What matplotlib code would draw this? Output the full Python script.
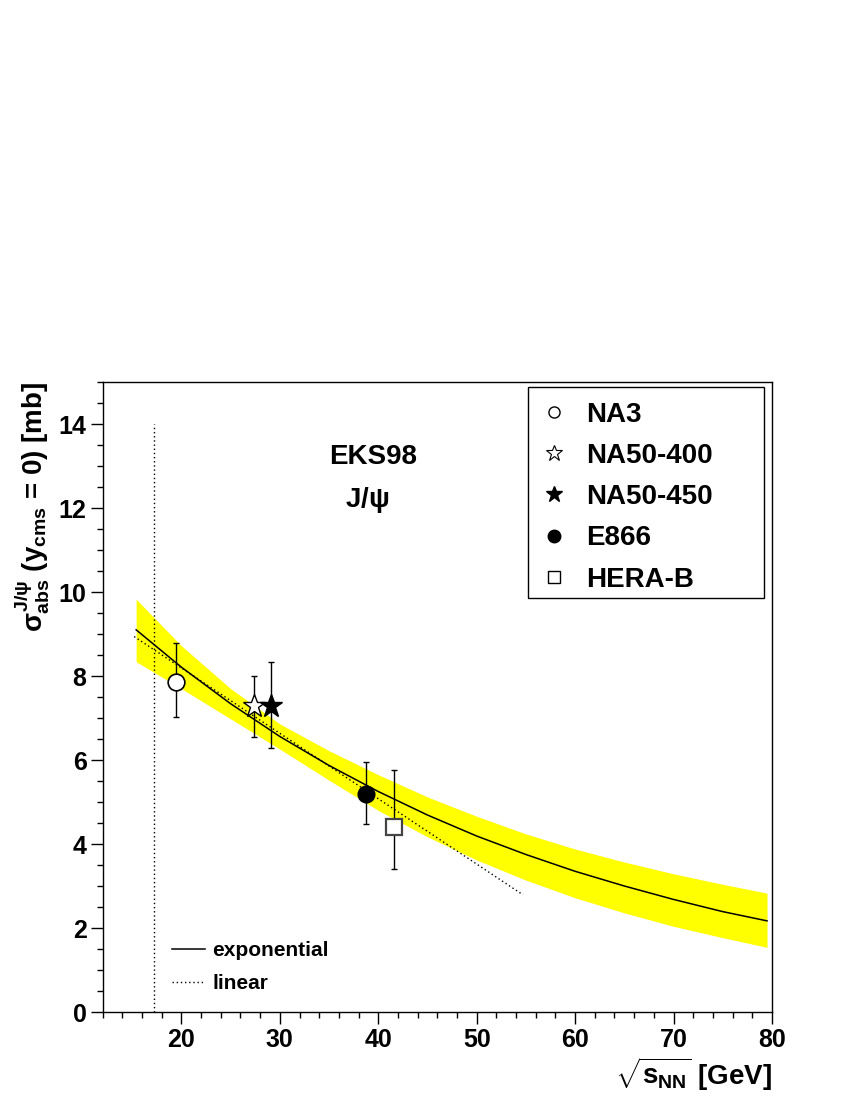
import matplotlib
matplotlib.use('Agg')
import matplotlib.pyplot as plt
from matplotlib.lines import Line2D
from matplotlib.patches import Rectangle
from matplotlib.ticker import MultipleLocator

plt.rcParams['font.family'] = ['Liberation Sans', 'DejaVu Sans']
plt.rcParams['font.weight'] = 'bold'
plt.rcParams['mathtext.fontset'] = 'custom'
plt.rcParams['mathtext.rm'] = 'Liberation Sans:bold'
plt.rcParams['mathtext.it'] = 'Liberation Sans:bold'
plt.rcParams['mathtext.bf'] = 'Liberation Sans:bold'

# exponential fit and its error band
exp_x = [15.4, 20, 25, 30, 35, 40, 45, 50, 55, 60, 65, 70, 75, 79.5]
exp_y = [9.10, 8.21, 7.34, 6.56, 5.87, 5.25, 4.69, 4.19, 3.75, 3.35, 3.00, 2.68, 2.39, 2.17]
band_hi = [9.83, 8.72, 7.70, 6.86, 6.22, 5.65, 5.12, 4.66, 4.24, 3.88, 3.57, 3.29, 3.04, 2.83]
band_lo = [8.34, 7.70, 6.98, 6.26, 5.52, 4.80, 4.17, 3.62, 3.14, 2.72, 2.36, 2.04, 1.77, 1.54]

# linear fit
lin_x = [15.2, 54.7]
lin_y = [8.94, 2.79]

# SPS energy marker line
sps_x = [17.2, 17.2]
sps_y = [0, 14]

# measurements: sqrt(s), sigma, lower err, upper err
na3_x, na3_y, na3_lo, na3_hi = [19.4], [7.86], [0.83], [0.92]
na50a_x, na50a_y, na50a_lo, na50a_hi = [27.4], [7.29], [0.74], [0.71]
na50b_x, na50b_y, na50b_lo, na50b_hi = [29.1], [7.29], [1.01], [1.04]
e866_x, e866_y, e866_lo, e866_hi = [38.8], [5.19], [0.72], [0.77]
herab_x, herab_y, herab_lo, herab_hi = [41.6], [4.40], [1.00], [1.36]

fig = plt.figure(figsize=(8.5, 11), dpi=100)
ax = fig.add_axes([0.1208, 0.08, 0.7874, 0.5727])

ax.fill_between(exp_x, band_lo, band_hi, color='#ffff00', lw=0, zorder=1)
ax.plot(exp_x, exp_y, color='black', lw=1.1, zorder=2)
ax.plot(lin_x, lin_y, color='black', lw=1.0, ls=(0, (1, 2)), zorder=2)
ax.plot(sps_x, sps_y, color='black', lw=1.0, ls=(0, (1, 2)), zorder=2)

points = [
    (na3_x, na3_y, na3_lo, na3_hi, dict(marker='o', ms=12, mfc='white', mec='black', mew=1.2)),
    (na50a_x, na50a_y, na50a_lo, na50a_hi, dict(marker='*', ms=17, mfc='white', mec='black', mew=1.0)),
    (na50b_x, na50b_y, na50b_lo, na50b_hi, dict(marker='*', ms=17, mfc='black', mec='black', mew=1.0)),
    (e866_x, e866_y, e866_lo, e866_hi, dict(marker='o', ms=12, mfc='black', mec='black', mew=1.0)),
    (herab_x, herab_y, herab_lo, herab_hi, dict(marker='s', ms=12, mfc='white', mec='#444444', mew=1.6)),
]
for px, py, lo, hi, style in points:
    ax.errorbar(px, py, yerr=[lo, hi], fmt='none', ecolor='black', elinewidth=1.0,
                capsize=2.4, capthick=1.0, zorder=3)
    ax.plot(px, py, ls='none', zorder=4, **style)

ax.set_xlim(12, 80)
ax.set_ylim(0, 15)
ax.xaxis.set_minor_locator(MultipleLocator(2))
ax.yaxis.set_major_locator(MultipleLocator(2))
ax.yaxis.set_minor_locator(MultipleLocator(0.5))
ax.set_xticks([20, 30, 40, 50, 60, 70, 80])
ax.tick_params(which='both', direction='out', top=False, right=False, width=1.0)
ax.tick_params(which='major', length=8.6, labelsize=18, pad=3)
ax.tick_params(which='minor', length=4.3)
for lab in ax.get_xticklabels() + ax.get_yticklabels():
    lab.set_fontweight('bold')
for sp in ax.spines.values():
    sp.set_linewidth(1.0)

ax.text(39.5, 13.22, 'EKS98', fontsize=20, fontweight='bold', ha='center', va='center')
ax.text(38.9, 12.18, r'J/$\psi$', fontsize=20, fontweight='bold', ha='center', va='center')

# main legend
handles = [
    Line2D([], [], ls='none', marker='o', ms=8, mfc='white', mec='black', mew=1.0),
    Line2D([], [], ls='none', marker='*', ms=12, mfc='white', mec='black', mew=0.8),
    Line2D([], [], ls='none', marker='*', ms=12, mfc='black', mec='black'),
    Line2D([], [], ls='none', marker='o', ms=9, mfc='black', mec='black'),
    Line2D([], [], ls='none', marker='s', ms=9, mfc='white', mec='black', mew=1.0),
]
labels = ['NA3', 'NA50-400', 'NA50-450', 'E866', 'HERA-B']
leg = ax.legend(handles, labels, loc='upper left', bbox_to_anchor=(0.6536, 0.969),
                frameon=False, borderpad=0, borderaxespad=0,
                handlelength=1.0, handletextpad=0.65, labelspacing=0.55,
                prop={'weight': 'bold', 'size': 20})
ax.add_artist(leg)
ax.add_patch(Rectangle((0.635, 0.657), 0.353, 0.335, transform=ax.transAxes,
                       fill=False, ec='black', lw=1.0, zorder=5))

# fit legend
fit_handles = [Line2D([], [], color='black', lw=1.1),
               Line2D([], [], color='black', lw=1.0, ls=(0, (1, 2)))]
ax.legend(fit_handles, ['exponential', 'linear'], loc='upper left',
          bbox_to_anchor=(0.1035, 0.1127), frameon=False, borderpad=0,
          borderaxespad=0, handlelength=1.59, handletextpad=0.34,
          labelspacing=0.67, prop={'weight': 'bold', 'size': 15})

fig.text(0.038, 0.653, r'$\sigma^{J/\psi}_{abs}$ (y$_{cms}$ = 0) [mb]', rotation=90,
         fontsize=20, fontweight='bold', ha='center', va='top')
fig.text(0.908, 0.023, r'$\sqrt{s_{NN}}$ [GeV]', fontsize=20, fontweight='bold',
         ha='right', va='center')

fig.savefig('out.png', dpi=100)
